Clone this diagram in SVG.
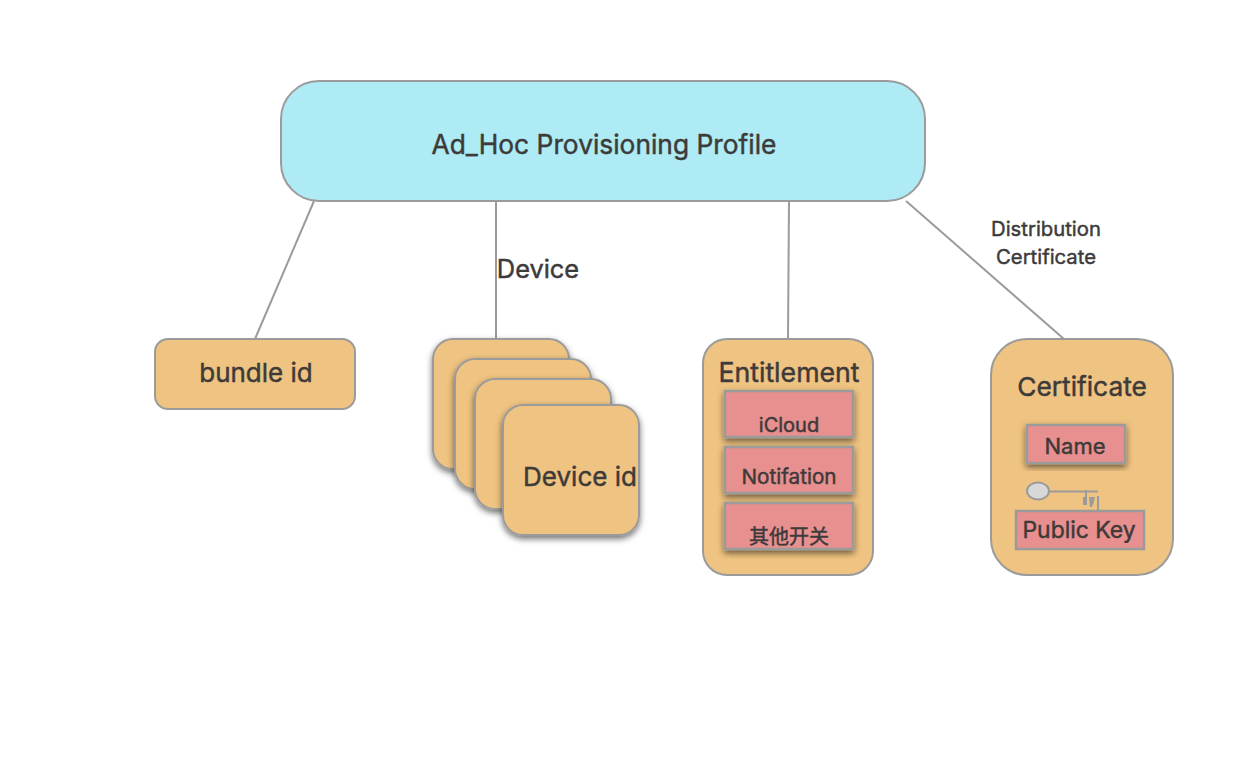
<svg xmlns="http://www.w3.org/2000/svg" width="1236" height="780" viewBox="0 0 1236 780">
<style>
text{font-family:"Inter","Noto Sans CJK SC",sans-serif;fill:#3d3a3a;text-anchor:middle;font-weight:400;stroke:#3d3a3a;stroke-width:0.45}
.o{fill:#efc381;stroke:#9b9b9b;stroke-width:2}
.p{fill:#e88f8f;stroke:#9b9b9b;stroke-width:2.5}
.l{fill:none;stroke:#9b9b9b;stroke-width:2}
.s{filter:url(#sh)}
</style>
<defs>
<filter id="sh" x="-20%" y="-20%" width="140%" height="140%"><feDropShadow dx="0" dy="3" stdDeviation="3" flood-color="#000" flood-opacity="0.55"/></filter>
</defs>
<rect width="1236" height="780" fill="#fff"/>
<g id="connectors">
<path class="l" d="M314 201L255 339"/>
<path class="l" d="M496 201V339"/>
<path class="l" d="M789 201L788 339"/>
<path class="l" d="M906 201L1064 339"/>
</g>
<g id="root"><rect x="281" y="81" width="644" height="120" rx="38" fill="#aeebf4" stroke="#9b9b9b" stroke-width="2"/>
<text x="604" y="154" font-size="26.350">Ad_Hoc Provisioning Profile</text></g>
<g id="label-device"><text x="538" y="278" font-size="25.400">Device</text></g>
<g id="label-dist"><text x="1046" y="236" font-size="20.300">Distribution</text><text x="1046" y="264" font-size="20.300">Certificate</text></g>
<g id="bundle"><rect class="o" x="155" y="339" width="200" height="70" rx="13"/><text x="256" y="382" font-size="26">bundle id</text></g>
<g id="device1"><rect class="o s" x="433" y="339" width="136" height="130" rx="20"/></g>
<g id="device2"><rect class="o s" x="455" y="359" width="136" height="130" rx="20"/></g>
<g id="device3"><rect class="o s" x="475" y="379" width="136" height="130" rx="20"/></g>
<g id="device4"><rect class="o s" x="503" y="405" width="136" height="130" rx="20"/><text x="580" y="486" font-size="26">Device id</text></g>
<g id="entitlement"><rect class="o" x="703" y="339" width="170" height="236" rx="24"/><text x="789" y="382" font-size="26.700">Entitlement</text></g>
<g id="icloud"><rect class="p s" x="725" y="391" width="128" height="46"/><text x="789" y="432" font-size="20">iCloud</text></g>
<g id="notification"><rect class="p s" x="725" y="447" width="128" height="46"/><text x="789" y="484" font-size="20.700">Notifation</text></g>
<g id="other"><rect class="p s" x="725" y="503" width="128" height="46"/><text x="789" y="544" font-size="20" stroke-width="0">其他开关</text></g>
<g id="certificate"><rect class="o" x="991" y="339" width="182" height="236" rx="36"/><text x="1082" y="396" font-size="26.300">Certificate</text></g>
<g id="name"><rect class="p s" x="1027" y="425" width="98" height="38"/><text x="1075" y="454" font-size="22">Name</text></g>
<g id="key"><ellipse cx="1038" cy="491" rx="11" ry="8.500" fill="#d8d8d8" stroke="#9b9b9b" stroke-width="2"/>
<path class="l" d="M1049 491.500H1098M1098 496V511M1086 490V505"/>
<path d="M1083 497h3v8h-3zM1089 497h3l1 4-1 6h-2zM1092 497h3l-2 9z" fill="#9b9b9b"/></g>
<g id="pubkey"><rect class="p" x="1016" y="511" width="128" height="38"/><text x="1079" y="538" font-size="22.900">Public Key</text></g>
</svg>
